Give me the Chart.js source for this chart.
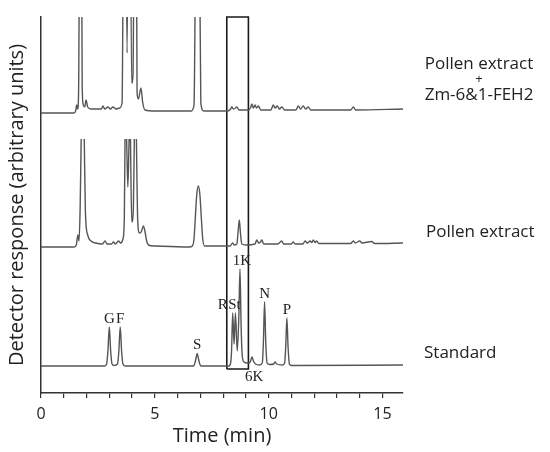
<!DOCTYPE html>
<html>
<head>
<meta charset="utf-8">
<script src="https://cdn.jsdelivr.net/npm/chart.js@4.4.1/dist/chart.umd.min.js"></script>
<style>
  body { margin: 0; background: #fff; }
</style>
</head>
<body>
<canvas id="chromChart" width="550" height="452"></canvas>
<script>
// Retention times (min) and detector signal above each trace's own baseline
// Top trace: pollen extract + Zm-6&1-FEH2 (tall peaks run off the top)
const topTimes = [0, 1.45, 1.52, 1.57, 1.61, 1.65, 1.74, 1.81, 1.86, 1.92, 1.98, 2.05, 2.2, 2.5, 2.65, 2.72, 2.8, 2.94, 3.05, 3.16, 3.3, 3.45, 3.56,
  3.675, 3.78, 3.89, 3.98, 4.04, 4.145, 4.22, 4.28, 4.39, 4.47, 4.57, 5.0, 6.0, 6.6, 6.72, 6.87, 7.02, 7.15, 7.6, 8.2, 8.33, 8.38, 8.45, 8.55, 8.6, 8.7,
  9.1, 9.2, 9.26, 9.33, 9.4, 9.47, 9.55, 9.65, 10.1, 10.2, 10.28, 10.38, 10.47, 10.58, 10.7, 11.2, 11.3, 11.4, 11.52, 11.62, 11.74, 11.85, 13.6, 13.72, 13.82, 15.9];
const topValues = [0, 0, 2, 8, 4, 20, 400, 25, 8, 6, 13, 6, 4, 4, 4, 7, 4, 6, 4, 6, 4, 5, 10,
  400, 60, 400, 30, 38, 400, 20, 14, 25, 10, 3, 2, 2, 2, 8, 400, 10, 2, 2, 2, 4, 6, 4, 5, 6, 3,
  3, 5, 9, 5, 8, 5, 7, 3, 3, 8, 5, 7, 4, 6, 3, 3, 7, 4, 7, 4, 6, 3, 3, 6, 3, 4];

// Middle trace: pollen extract (peak tops cut flat, null = gap in the cut)
const midTimes = [0, 1.45, 1.55, 1.62, 1.67, 1.72, 1.765, 1.83, 1.9, 1.95, 2.05, 2.2, 2.4, 2.7, 2.81, 2.9, 3.1, 3.18, 3.27, 3.4, 3.5, 3.6, 3.66,
  3.69, 3.725, 3.76, 3.815, 3.87, 3.9, 3.93, 3.985, 4.05, 4.1, 4.14, 4.19, 4.25, 4.33, 4.4, 4.5, 4.57, 4.64, 4.72, 5.0, 6.5, 6.65, 6.72, 6.78, 6.84,
  6.91, 6.98, 7.04, 7.1, 7.18, 7.6, 8.3, 8.42, 8.48, 8.6, 8.66, 8.71, 8.76, 8.82, 9.0, 9.4, 9.48, 9.56, 9.64, 9.7, 9.78, 10.4, 10.57, 10.66, 11.0,
  11.08, 11.16, 11.5, 11.6, 11.7, 11.82, 11.9, 11.96, 12.04, 12.11, 12.2, 13.6, 13.72, 13.8, 14.0, 14.1, 14.53, 14.65, 15.9];
const midValues = [0, 0, 2, 12, 6, 40, 108, null, 108, 35, 12, 6, 4, 3, 6, 3, 3, 5, 3, 6, 4, 8, 30,
  108, null, 108, 60, 108, null, 108, 25, 35, 108, null, 108, 25, 14, 15, 21, 15, 6, 2, 1, 0, 1, 8, 30, 52,
  61, 52, 30, 9, 1, 1, 1, 4, 2, 3, 16, 27, 14, 3, 2, 3, 7, 4, 5, 7, 3, 3, 6, 3, 3,
  5, 3, 3, 6, 4, 6, 4.5, 7, 4.5, 6, 3.5, 3.5, 6, 4, 6, 4, 5.5, 3.5, 4];

// Bottom trace: standard mixture
const stdTimes = [0, 2.8, 2.88, 2.94, 3.0, 3.06, 3.12, 3.22, 3.36, 3.42, 3.48, 3.54, 3.6, 3.7, 6.7, 6.76, 6.82, 6.86, 6.9, 6.96, 7.02,
  8.25, 8.32, 8.37, 8.42, 8.48, 8.54, 8.62, 8.69, 8.74, 8.79, 8.84, 8.92, 9.05, 9.16, 9.22, 9.27, 9.33, 9.42, 9.6, 9.72, 9.77, 9.82, 9.87, 9.93,
  10.05, 10.22, 10.28, 10.35, 10.6, 10.7, 10.75, 10.8, 10.85, 10.91, 11.0, 15.9];
const stdValues = [0, 0, 2, 15, 39, 15, 2, 0.5, 2, 15, 39, 15, 2, 0, 0, 3, 9, 12.5, 9, 3, 0,
  0, 2, 15, 53, 22, 53, 15, 50, 97, 40, 10, 4, 3, 3, 6, 9, 5, 2, 1, 3, 25, 64, 25, 3,
  1.5, 2, 4, 2, 1, 3, 20, 48, 20, 2, 0.5, 1];

// Peak identifications in the standard
const peakNames = ["G", "F", "S", "R", "St", "1K", "6K", "N", "P"];
const peakTimes = [3.0, 3.48, 6.86, 8.42, 8.54, 8.74, 9.27, 9.82, 10.8];
const peakHeights = [39, 39, 12.5, 53, 53, 97, 9, 64, 48];

// Highlighted window
const boxTimes = [8.16, 9.11];

const traceLabels = [["Pollen extract", "+", "Zm-6&1-FEH2"], ["Pollen extract"], ["Standard"]];
const labeledTicks = [0, 5, 10, 15];

// ---- layout / style ----
const stackOffset = [280, 146, 27];   // vertical offset of each trace
const yTop = 376;
const boxBottom = 24;
const traceColor = "#555";
const inkColor = "#222";
const sans = "'Open Sans', 'Noto Sans', sans-serif";

function toPoints(times, values, offset) {
  return times.map((t, i) => ({ x: t, y: values[i] === null ? null : values[i] + offset }));
}

const traceStyle = {
  showLine: true,
  borderColor: traceColor,
  borderWidth: 1.4,
  pointRadius: 0,
  cubicInterpolationMode: "monotone",
  spanGaps: false
};

const labelOffsets = {
  R: { dx: -10, dy: -8 },
  St: { dx: -1, dy: -8 },
  "1K": { dx: 2, dy: -8 },
  "6K": { dx: 2, dy: 20 }
};

const annotate = {
  id: "annotate",
  afterDraw(chart) {
    const { ctx, scales: { x, y }, chartArea } = chart;
    ctx.save();
    ctx.fillStyle = inkColor;
    ctx.textBaseline = "middle";

    // peak letters
    ctx.font = "15px 'Liberation Serif', 'DejaVu Serif', serif";
    ctx.textAlign = "center";
    peakNames.forEach((name, i) => {
      const off = labelOffsets[name] || { dx: 0, dy: -8 };
      const px = x.getPixelForValue(peakTimes[i]) + off.dx;
      const py = y.getPixelForValue(peakHeights[i] + stackOffset[2]) + off.dy;
      ctx.fillText(name, px, py);
    });

    // trace names on the right
    const topBase = y.getPixelForValue(stackOffset[0]);
    const cx = chartArea.right + 76;
    ctx.font = "17px " + sans;
    ctx.fillText(traceLabels[0][0], cx, topBase - 49);
    ctx.font = "13px " + sans;
    ctx.fillText(traceLabels[0][1], cx, topBase - 34);
    ctx.font = "17px " + sans;
    ctx.fillText(traceLabels[0][2], cx, topBase - 18);

    ctx.textAlign = "left";
    ctx.fillText(traceLabels[1][0], chartArea.right + 23, y.getPixelForValue(stackOffset[1]) - 15);
    ctx.fillText(traceLabels[2][0], chartArea.right + 21, y.getPixelForValue(stackOffset[2]) - 13);
    ctx.restore();
  }
};

new Chart(document.getElementById("chromChart"), {
  type: "scatter",
  data: {
    datasets: [
      { ...traceStyle, data: toPoints(topTimes, topValues, stackOffset[0]) },
      { ...traceStyle, data: toPoints(midTimes, midValues, stackOffset[1]) },
      { ...traceStyle, data: toPoints(stdTimes, stdValues, stackOffset[2]) },
      {
        showLine: true,
        borderColor: "#1a1a1a",
        borderWidth: 1.6,
        pointRadius: 0,
        clip: false,
        data: [
          { x: boxTimes[0], y: boxBottom }, { x: boxTimes[0], y: yTop },
          { x: boxTimes[1], y: yTop }, { x: boxTimes[1], y: boxBottom },
          { x: boxTimes[0], y: boxBottom }
        ]
      }
    ]
  },
  options: {
    responsive: false,
    animation: false,
    devicePixelRatio: 1,
    layout: { padding: { top: 17, right: 147, bottom: 0, left: 0 } },
    plugins: {
      legend: { display: false },
      tooltip: { enabled: false }
    },
    scales: {
      x: {
        type: "linear",
        min: 0,
        max: 15.9,
        afterFit: (s) => { s.height = 59; },
        ticks: {
          stepSize: 1,
          includeBounds: false,
          autoSkip: false,
          maxRotation: 0,
          padding: 7,
          color: inkColor,
          font: { family: sans, size: 16 },
          callback: (v) => labeledTicks.includes(v) ? String(v) : ""
        },
        grid: { display: true, drawOnChartArea: false, drawTicks: true, tickLength: 5, color: "#333", lineWidth: 1.2 },
        border: { display: true, color: "#333", width: 1.5 },
        title: {
          display: true,
          text: "Time (min)",
          color: inkColor,
          font: { family: sans, size: 20 },
          padding: { top: 0, bottom: 4 }
        }
      },
      y: {
        type: "linear",
        min: 0,
        max: yTop,
        afterFit: (s) => { s.width = 41; },
        ticks: { display: false },
        grid: { display: false },
        border: { display: true, color: "#333", width: 1.5 },
        title: {
          display: true,
          text: "Detector response (arbitrary units)",
          color: inkColor,
          font: { family: sans, size: 20 },
          padding: { top: 5, bottom: 0 }
        }
      }
    }
  },
  plugins: [annotate]
});
</script>
</body>
</html>
